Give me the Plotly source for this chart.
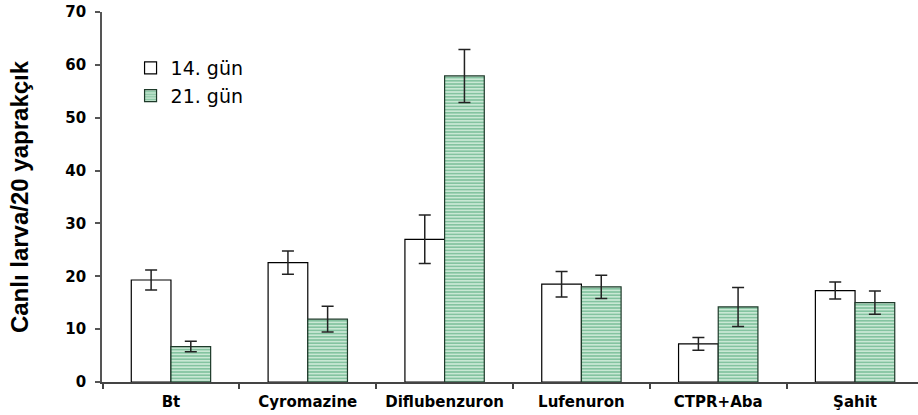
import plotly.graph_objects as go

categories = ["Bt", "Cyromazine", "Diflubenzuron", "Lufenuron", "CTPR+Aba", "Şahit"]
day14 = [19.3, 22.6, 27.0, 18.5, 7.2, 17.3]
day14_err = [1.9, 2.2, 4.6, 2.4, 1.2, 1.6]
day21 = [6.7, 11.9, 57.9, 18.0, 14.2, 15.0]
day21_err = [1.0, 2.45, 5.0, 2.2, 3.7, 2.2]
y_ticks = [0, 10, 20, 30, 40, 50, 60, 70]

tick_family = "DejaVu Sans, Arial, sans-serif"
title_family = "Liberation Sans, Arial, sans-serif"

fig = go.Figure()
fig.add_trace(go.Bar(
    name="14. gün",
    x=categories,
    y=day14,
    marker=dict(color="white", line=dict(color="black", width=1.2)),
    error_y=dict(type="data", array=day14_err, color="#222222", thickness=1.5, width=6),
))
fig.add_trace(go.Bar(
    name="21. gün",
    x=categories,
    y=day21,
    marker=dict(
        color="#c9e8d4",
        line=dict(color="#1e3a2a", width=1.2),
        pattern=dict(shape="-", fgcolor="#3f9d6c", bgcolor="#c9e8d4", size=3.2, solidity=0.5),
    ),
    error_y=dict(type="data", array=day21_err, color="#222222", thickness=1.5, width=6),
))

fig.update_layout(
    width=918,
    height=415,
    margin=dict(l=102, r=0, t=12, b=33),
    paper_bgcolor="white",
    plot_bgcolor="white",
    barmode="group",
    bargap=0.42,
    bargroupgap=0,
    font=dict(family=tick_family, color="black"),
    showlegend=True,
    legend=dict(
        x=0.035, y=0.9, xanchor="left", yanchor="top",
        bgcolor="rgba(0,0,0,0)",
        font=dict(size=19, family=tick_family, color="black"),
        itemwidth=30,
        tracegroupgap=0,
    ),
)

fig.update_xaxes(
    type="category",
    range=[-0.504, 5.46],
    showline=True, linecolor="#444444", linewidth=1.5,
    ticks="outside", ticklen=5, tickcolor="#444444", tickwidth=1.5,
    tickson="boundaries",
    ticklabelstandoff=5,
    showgrid=False, zeroline=False,
    tickfont=dict(size=15, family=tick_family, color="black", weight="bold"),
)
fig.update_yaxes(
    range=[0, 70],
    tickvals=y_ticks,
    showline=True, linecolor="#555555", linewidth=1.8,
    ticks="outside", ticklen=5, tickcolor="#555555", tickwidth=1.5,
    ticklabelstandoff=6,
    showgrid=False, zeroline=False,
    tickfont=dict(size=15, family=tick_family, color="black", weight="bold"),
    title=dict(text="Canlı larva/20 yaprakçık", standoff=30,
               font=dict(size=24, family=title_family, color="black", weight="bold")),
)

fig.write_html("out.html")
